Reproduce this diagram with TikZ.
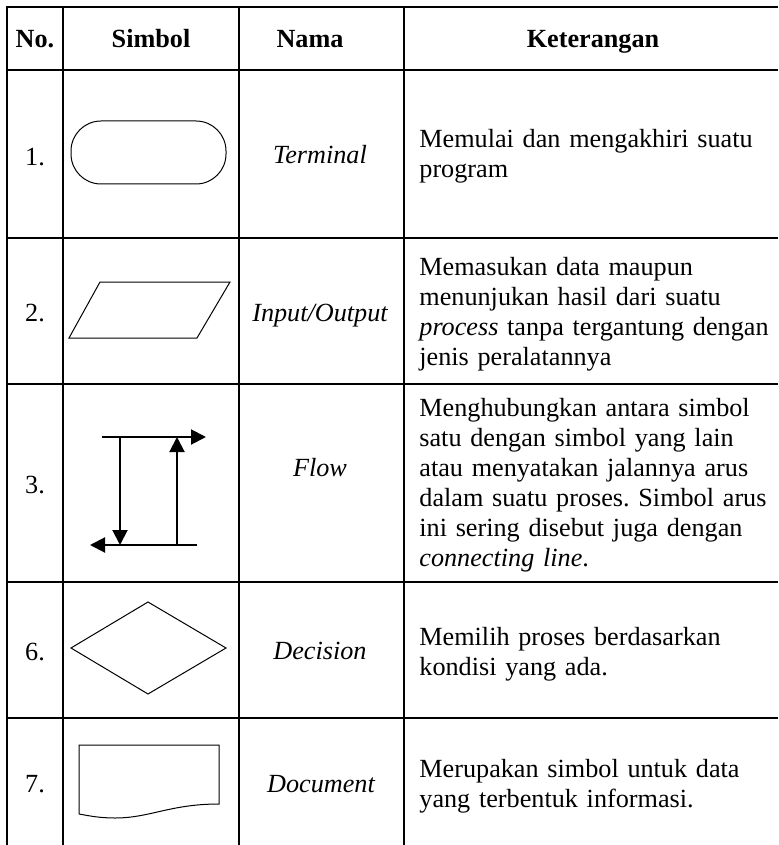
\documentclass[tikz,border=0pt]{standalone}
\usepackage{fontspec}
\setmainfont{Liberation Serif}
\usetikzlibrary{arrows.meta}
\newcommand{\nohyphens}{\hyphenpenalty=10000\relax\exhyphenpenalty=10000\relax\frenchspacing}
\begin{document}
\begin{tikzpicture}[x=0.5pt,y=-0.5pt,
  grid/.style={line width=1.15pt},
  shapeline/.style={line width=0.5pt},
  flowline/.style={line width=1pt,-{Triangle[length=7.5pt,width=7.5pt]}},
  txt/.style={inner sep=0pt,font=\fontsize{13.1}{15}\selectfont},
  hdr/.style={txt,anchor=base,font=\fontsize{13.1}{15}\selectfont\bfseries},
  cell/.style={txt,anchor=base},
  desc/.style={txt,anchor=base west,align=left,text width=200pt,
    font={\fontsize{13.1}{15}\selectfont\nohyphens}}]
\useasboundingbox (0,0) rectangle (778,845);
% grid
\draw[grid] (778,7) -- (7,7) -- (7,845);
\draw[grid] (63,7) -- (63,845);
\draw[grid] (239,7) -- (239,845);
\draw[grid] (404,7) -- (404,845);
\foreach \y in {70,238,384,582,718} \draw[grid] (7,\y) -- (778,\y);
% header
\node[hdr] (hno) at (35,48) {No.};
\node[hdr] (hsym) at (151,48) {Simbol};
\node[hdr] (hname) at (310,48) {Nama};
\node[hdr] (hdesc) at (593,48) {Keterangan};
% row 1
\node[cell] (n1) at (35,165.5) {1.};
\draw[shapeline,rounded corners=15pt] (71,121) rectangle (226,184);
\node[cell] (t1) at (320,164) {\itshape Terminal};
\node[desc] (d1) at (419,148) {Memulai dan mengakhiri suatu\\program};
% row 2
\node[cell] (n2) at (35,321.5) {2.};
\draw[shapeline] (100,282) -- (230,282) -- (197,338) -- (69,338) -- cycle;
\node[cell] (t2) at (320,321.5) {\itshape Input/Output};
\node[desc] (d2) at (419,275) {Memasukan data maupun\\menunjukan hasil dari suatu\\\textit{process} tanpa tergantung dengan\\jenis peralatannya};
% row 3
\node[cell] (n3) at (35,493) {3.};
\coordinate (fa) at (102,437);
\coordinate (fb) at (206,437);
\coordinate (fc) at (120,437);
\coordinate (fd) at (120,545);
\coordinate (fe) at (177,545);
\coordinate (ff) at (177,437);
\coordinate (fg) at (197,545);
\coordinate (fh) at (90,545);
\draw[flowline] (fa) -- (fb);
\draw[flowline] (fc) -- (fd);
\draw[flowline] (fe) -- (ff);
\draw[flowline] (fg) -- (fh);
\node[cell] (t3) at (320,476) {\itshape Flow};
\node[desc] (d3) at (419,416) {Menghubungkan antara simbol\\satu dengan simbol yang lain\\atau menyatakan jalannya arus\\dalam suatu proses. Simbol arus\\ini sering disebut juga dengan\\\textit{connecting line}.};
% row 6
\node[cell] (n6) at (35,660) {6.};
\draw[shapeline] (71,648) -- (148,602) -- (226,648) -- (148,694) -- cycle;
\node[cell] (t6) at (320,659) {\itshape Decision};
\node[desc] (d6) at (419,645) {Memilih proses berdasarkan\\kondisi yang ada.};
% row 7
\node[cell] (n7) at (35,792.5) {7.};
\draw[shapeline] (79,814) -- (79,745) -- (219,745) -- (219,804)
  .. controls (170,804) and (150,818) .. (115,818)
  .. controls (100,818) and (90,816) .. (79,814);
\node[cell] (t7) at (321,792) {\itshape Document};
\node[desc] (d7) at (419,777) {Merupakan simbol untuk data\\yang terbentuk informasi.};
\end{tikzpicture}
\end{document}
